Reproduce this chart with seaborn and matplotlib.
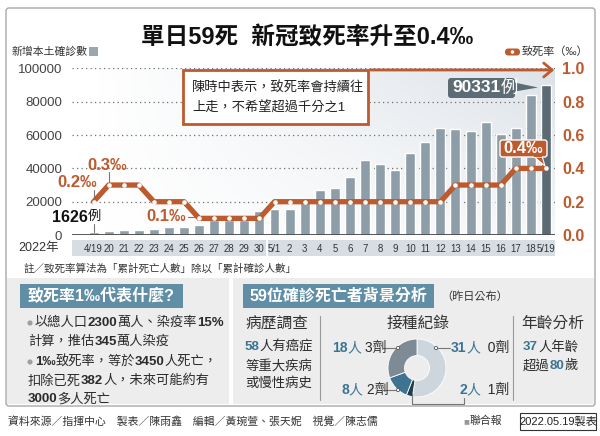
import numpy as np
import pandas as pd
import seaborn as sns
import matplotlib.pyplot as plt
from matplotlib.patches import Rectangle, FancyBboxPatch, Polygon, Circle, FancyArrowPatch
from matplotlib.lines import Line2D
from matplotlib.transforms import Affine2D

sns.set_style("white")
plt.rcParams['font.family'] = ['Liberation Sans', 'Noto Sans CJK TC', 'DejaVu Sans']

# daily local cases and case fatality rate (per mille)
dates = ['4/19', '20', '21', '22', '23', '24', '25', '26', '27', '28', '29', '30',
         '5/1', '2', '3', '4', '5', '6', '7', '8', '9', '10', '11', '12', '13', '14',
         '15', '16', '17', '18', '5/19']
cases = [1626, 2200, 2800, 3300, 3700, 4700, 4700, 6200, 8800, 8800, 8800, 14200,
         15500, 15900, 21700, 26800, 28500, 34600, 45200, 42700, 39000, 49300, 55900,
         64100, 63500, 62700, 67600, 60400, 64500, 84300, 90331]
rate = [0.2, 0.3, 0.3, 0.3, 0.2, 0.2, 0.2, 0.1, 0.1, 0.1, 0.1, 0.1,
        0.2, 0.2, 0.2, 0.2, 0.2, 0.2, 0.2, 0.2, 0.2, 0.2, 0.2, 0.2,
        0.3, 0.3, 0.3, 0.3, 0.4, 0.4, 0.4]

# vaccination record of the 59 deaths
doses = ['0劑', '1劑', '2劑', '3劑']
dose_people = [31, 2, 8, 18]

df = pd.DataFrame({'date': dates, 'cases': cases, 'rate': rate})

BAR = '#8e9ea8'
BAR_LAST = '#5b6a73'
LINE = '#bd5a2e'
BLUE = '#3b7493'
BOXBLUE = '#5f8ea5'
DARK = '#2b2b2b'
GRAY = '#777777'

W, H = 600, 436
fig = plt.figure(figsize=(6, 4.36), dpi=100)
# pixel coordinates, origin top-left
PX = Affine2D().scale(1 / W, -1 / H).translate(0, 1) + fig.transFigure


def txt(x, y, s, size=9, **kw):
    kw.setdefault('va', 'center')
    kw.setdefault('color', DARK)
    return fig.text(x, y, s, transform=PX, fontsize=size, **kw)


def line(xs, ys, color=GRAY, lw=0.8, **kw):
    fig.add_artist(Line2D(xs, ys, transform=PX, color=color, lw=lw, **kw))


def runs(x, y, parts, size):
    r = fig.canvas.get_renderer()
    for s, w, c in parts:
        t = txt(x, y, s, size, fontweight=w, color=c)
        x += t.get_window_extent(r).width


# ---------------- frame / panels ----------------
fig.add_artist(FancyBboxPatch((6, 8), 589, 398, boxstyle='round,pad=0,rounding_size=3',
                              transform=PX, fc='white', ec='#a8a8a8', lw=1, zorder=-2))
fig.add_artist(Rectangle((7, 278), 222, 126, transform=PX, fc='#ededed', ec='none', zorder=-1))
fig.add_artist(Rectangle((233, 278), 361, 126, transform=PX, fc='#ededed', ec='none', zorder=-1))

# ---------------- title / legends ----------------
txt(307, 38, '單日59死  新冠致死率升至0.4‰', 17, ha='center', fontweight='bold', color='#111')
txt(12, 52, '新增本土確診數', 7.8, color='#333')
fig.add_artist(Rectangle((89, 47.5), 9, 9, transform=PX, fc='#9aa7b0', ec='none'))
fig.add_artist(FancyBboxPatch((505, 48.5), 15, 7, boxstyle='round,pad=0,rounding_size=3.5',
                              transform=PX, fc=LINE, ec='none'))
fig.add_artist(Circle((512.5, 52), 1.8, transform=PX, fc='white', ec='none'))
txt(522, 52, '致死率（‰）', 8, color='#333')

# ---------------- main chart ----------------
ax = fig.add_axes([72 / W, 1 - 235 / H, 483 / W, 166.5 / H])

gx = np.linspace(0, 1, 200)
gy = np.linspace(0, 1, 100)
shade = np.clip((gx[None, :] - 0.05) / 0.95, 0, 1) * (0.3 + 0.7 * gy[:, None])
bg = np.zeros((100, 200, 4))
bg[..., 0], bg[..., 1], bg[..., 2] = 0.865, 0.89, 0.91
bg[..., 3] = shade
ax.imshow(bg, extent=[0, 1, 0, 1], transform=ax.transAxes, origin='lower',
          aspect='auto', zorder=0)

sns.barplot(data=df, x='date', y='cases', color=BAR, width=0.66, saturation=1,
            ax=ax, zorder=2)
ax.patches[len(dates) - 1].set_facecolor(BAR_LAST)

ax.set_xlim(-1.43, 30.6)
ax.set_ylim(0, 100000)
ax.set_yticks(range(0, 100001, 20000))
ax.set_yticklabels([str(v) for v in range(0, 100001, 20000)])
ax.set_xticks(range(len(dates)))
ax.set_xticklabels(dates)
ax.yaxis.grid(True, linestyle=(0, (1, 2.6)), color='#6f6f6f', lw=0.9)
ax.xaxis.grid(False)
ax.set_axisbelow(True)
ax.axhline(0, color='#4a4a4a', lw=1.3, zorder=3)
ax.set_xlabel('')
ax.set_ylabel('')
for s in ax.spines.values():
    s.set_visible(False)
ax.tick_params(axis='y', length=0, labelsize=9.5, labelcolor='#444', pad=7)
ax.tick_params(axis='x', length=0, labelsize=6.9, labelcolor='#333', pad=6.5)

# date strip under the bars
tr = ax.get_xaxis_transform()
ax.add_patch(Rectangle((-1.43, -0.127), 11.5 + 1.43 - 0.07, 0.097, transform=tr,
                       fc='#d6dee4', ec='none', clip_on=False, zorder=0))
ax.add_patch(Rectangle((11.57, -0.127), 30.6 - 11.57, 0.097, transform=tr,
                       fc='#d6dee4', ec='none', clip_on=False, zorder=0))
txt(18, 248, '2022年', 9, color='#333')

ax2 = ax.twinx()
sns.lineplot(x=df.index, y=df['rate'], ax=ax2, color=LINE, lw=3.8, marker='o',
             markersize=3.3, markerfacecolor='white', markeredgecolor='white',
             markeredgewidth=0, zorder=4)
ax2.set_ylim(0, 1)
ax2.set_xlim(-1.43, 30.6)
ax2.set_yticks(np.arange(0, 1.01, 0.2))
ax2.set_yticklabels([f'{v:.1f}' for v in np.arange(0, 1.01, 0.2)], fontweight='bold')
ax2.tick_params(axis='y', length=0, pad=5, labelsize=11.5, labelcolor=LINE)
ax2.set_ylabel('')
for s in ax2.spines.values():
    s.set_visible(False)

# rate labels
ax2.text(0.23, 0.318, '0.2‰', ha='right', va='center', color=LINE, fontsize=12, fontweight='bold')
ax2.plot([0, 0], [0.215, 0.27], color=GRAY, lw=0.8, zorder=3)
ax2.text(0.93, 0.42, '0.3‰', ha='center', va='center', color=LINE, fontsize=12, fontweight='bold')
ax2.plot([1, 1], [0.315, 0.38], color=GRAY, lw=0.8, zorder=3)
ax2.text(6.15, 0.114, '0.1‰', ha='right', va='center', color=LINE, fontsize=12, fontweight='bold')
ax2.plot([6.25, 6.9], [0.107, 0.107], color=GRAY, lw=0.8, zorder=3)

# first day label
ax.text(-0.36, 10800, str(cases[0]), ha='right', va='center', fontsize=11.5,
        fontweight='bold', color='#111')
ax.text(-0.36, 10800, '例', ha='left', va='center', fontsize=9.5, color='#111')
ax.plot([0, 0], [cases[0] + 300, 6600], color=GRAY, lw=0.8, zorder=3)

# last day box
fig.add_artist(Polygon([(512, 82), (538, 87.5), (512, 92)], closed=True, transform=PX,
                       fc='#5d6b74', ec='none'))
fig.add_artist(FancyBboxPatch((448, 78), 67, 20, boxstyle='round,pad=0,rounding_size=3',
                              transform=PX, fc='#5d6b74', ec='none'))
runs(452, 88, [(str(cases[-1]), 'bold', 'white'), ('例', 'normal', 'white')], 12.5)

# 0.4 box
fig.add_artist(Polygon([(533, 156), (545, 166), (542, 156)], closed=True, transform=PX,
                       fc=LINE, ec='white', lw=0.8))
fig.add_artist(FancyBboxPatch((500, 140), 47, 17, boxstyle='round,pad=0,rounding_size=2.5',
                              transform=PX, fc=LINE, ec='white', lw=1))
fig.add_artist(Rectangle((533.5, 155), 8, 2, transform=PX, fc=LINE, ec='none'))
txt(523.5, 148.5, '0.4‰', 12, ha='center', fontweight='bold', color='white')

# quote box and arrow at 1.0
fig.add_artist(Rectangle((183, 70), 185, 54, transform=PX, fc='white', ec=LINE, lw=2))
fig.add_artist(FancyArrowPatch((368, 70), (557, 70), transform=PX,
                               arrowstyle='->,head_length=0.6,head_width=0.5',
                               mutation_scale=10, color=LINE, lw=2))
txt(192, 88, '陳時中表示，致死率會持續往', 9.5, color='#222')
txt(192, 108, '上走，不希望超過千分之1', 9.5, color='#222')

txt(24, 269, '註／致死率算法為「累計死亡人數」除以「累計確診人數」', 7.6, color='#333')

# ---------------- left panel ----------------
fig.add_artist(Rectangle((20, 284), 163, 24, transform=PX, fc=BOXBLUE, ec='none'))
txt(101, 296, '致死率1‰代表什麼?', 11.5, ha='center', fontweight='bold', color='white')
for yy in (323, 362):
    fig.add_artist(Circle((30, yy), 2.6, transform=PX, fc='#a0a0a0', ec='none'))
N, B = 'normal', 'bold'
FS = 9.5
runs(35, 323, [('以總人口', N, DARK), ('2300', B, DARK), ('萬人、染疫率', N, DARK), ('15%', B, DARK)], FS)
runs(28, 342, [('計算，推估', N, DARK), ('345', B, DARK), ('萬人染疫', N, DARK)], FS)
runs(35, 362, [('1‰', B, DARK), ('致死率，等於', N, DARK), ('3450', B, DARK), ('人死亡，', N, DARK)], FS)
runs(28, 381, [('扣除已死', N, DARK), ('382', B, DARK), ('人，未來可能約有', N, DARK)], FS)
runs(28, 399, [('3000', B, DARK), ('多人死亡', N, DARK)], FS)

# ---------------- right panel ----------------
fig.add_artist(Rectangle((243, 284), 191, 24, transform=PX, fc=BOXBLUE, ec='none'))
txt(338, 296, '59位確診死亡者背景分析', 11.5, ha='center', fontweight='bold', color='white')
txt(441, 297, '（昨日公布）', 8, color='#333')

txt(277, 323, '病歷調查', 11.3, ha='center', color='#333')
txt(418, 323, '接種紀錄', 11.3, ha='center', color='#333')
txt(553, 323, '年齡分析', 11.3, ha='center', color='#333')
line([320, 320], [316, 400], color='#999999')
line([513, 513], [316, 400], color='#999999')

runs(245, 347, [('58', B, BLUE), ('人有癌症', N, DARK)], 9.6)
txt(245, 366, '等重大疾病', 9.6)
txt(245, 384, '或慢性病史', 9.6)
runs(523, 347, [('37', B, BLUE), ('人年齡', N, DARK)], 9.6)
runs(523, 366, [('超過', N, DARK), ('80', B, BLUE), ('歲', N, DARK)], 9.6)

# donut
axp = fig.add_axes([388 / W, 1 - 397 / H, 58 / W, 58 / H])
axp.pie(dose_people, colors=['#ccd6dc', '#1f3e51', '#3e7490', '#7f8b94'], startangle=90,
        counterclock=False, wedgeprops=dict(width=0.57, edgecolor='white', linewidth=0.6))
axp.set_xlim(-1, 1)
axp.set_ylim(-1, 1)
axp.set_aspect('equal')
axp.axis('off')

line([383, 398], [348, 348])
line([437, 450], [348, 348])
line([383, 398], [390, 390])
line([412, 412, 464, 464], [393, 404, 404, 398])
for cx, cy in ((398, 348), (436, 348), (398, 390)):
    fig.add_artist(Circle((cx, cy), 1.6, transform=PX, fc='white', ec='#555', lw=0.6, zorder=4))

runs(332, 348, [(str(dose_people[3]), B, BLUE), ('人', N, BLUE), (' ' + doses[3], N, DARK)], 10)
runs(451, 348, [(str(dose_people[0]), B, BLUE), ('人', N, BLUE), ('  ' + doses[0], N, DARK)], 10)
runs(341, 390, [(str(dose_people[2]), B, BLUE), ('人', N, BLUE), (' ' + doses[2], N, DARK)], 10)
runs(459, 390, [(str(dose_people[1]), B, BLUE), ('人', N, BLUE), ('  ' + doses[1], N, DARK)], 10)

# ---------------- footer ----------------
txt(8, 421, '資料來源／指揮中心　製表／陳雨鑫　編輯／黃琬萱、張天妮　視覺／陳志儒', 7.8, color='#333')
txt(463, 421, '■', 7, color='#999999')
txt(470, 421, '聯合報', 7.8, color='#333')
fig.add_artist(Rectangle((520, 413), 76, 17, transform=PX, fc='white', ec='#333', lw=0.8))
txt(558, 421.5, '2022.05.19製表', 8, ha='center', color='#222')

fig.savefig('out.png', dpi=100)
